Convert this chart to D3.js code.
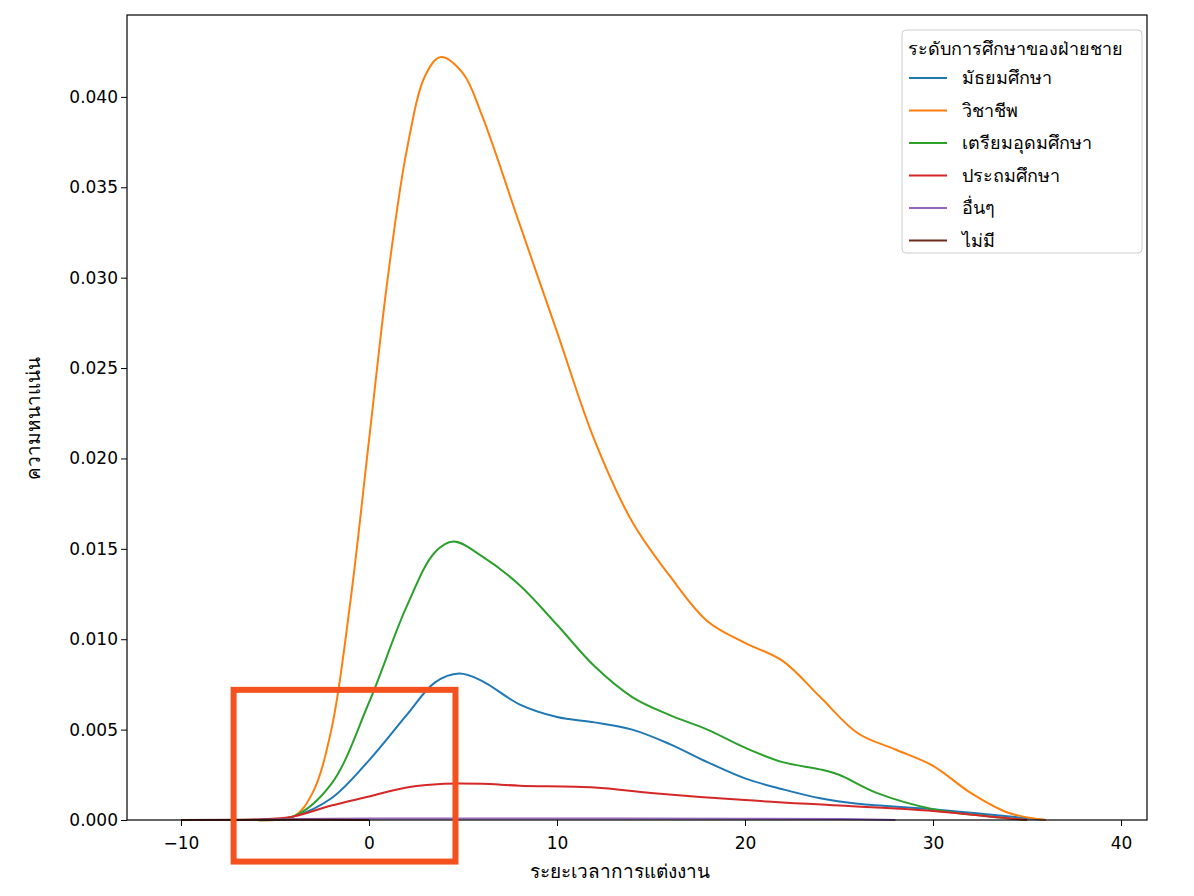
<!DOCTYPE html><html><head><meta charset="utf-8"><script src="https://cdn.jsdelivr.net/npm/d3@7"></script>
<style>body{margin:0;background:#fff}text{font-family:"DejaVu Sans","Noto Sans",sans-serif}</style></head><body><svg id="c" width="1194" height="896"></svg>
<script>
const seriesNames=["มัธยมศึกษา","วิชาชีพ","เตรียมอุดมศึกษา","ประถมศึกษา","อื่นๆ","ไม่มี"];
const colors=["#1f77b4","#ff7f0e","#2ca02c","#d62728","#9467bd","#6b2a1c"];
const blue=[[-6,0],[-4,0.0002],[-2,0.0012],[0,0.0033],[2,0.0058],[3.5,0.0076],[4.8,0.0081],[6,0.0077],[8,0.0064],[10,0.0057],[12,0.0054],[14,0.005],[16,0.0042],[18,0.0032],[20,0.0023],[22,0.0017],[24,0.0012],[26,0.0009],[30,0.0006],[33,0.0003],[36,0]];
const orange=[[-6,0],[-4,0.0002],[-3,0.0015],[-2,0.005],[-1,0.012],[0,0.021],[1,0.03],[2,0.037],[3,0.0412],[3.8,0.0422],[5,0.0413],[6,0.039],[8,0.033],[10,0.027],[12,0.021],[14,0.0165],[16,0.0135],[18,0.011],[20,0.0098],[22,0.0088],[24,0.0068],[26,0.0048],[28,0.0039],[30,0.003],[32,0.0015],[34,0.0004],[36,0]];
const green=[[-6,0],[-4,0.0002],[-2,0.002],[0,0.0065],[2,0.0118],[3.5,0.0148],[4.5,0.0154],[6,0.0146],[8,0.013],[10,0.0108],[12,0.0085],[14,0.0068],[16,0.0058],[18,0.005],[20,0.004],[22,0.0032],[24,0.0028],[25,0.0025],[27,0.0015],[30,0.0006],[33,0.0002],[35,0]];
const red=[[-9,0],[-6,0.00003],[-4,0.0002],[-2,0.0008],[0,0.0013],[2,0.0018],[4,0.002],[6,0.002],[8,0.0019],[12,0.0018],[15,0.0015],[20,0.0011],[25,0.0008],[30,0.0005],[33,0.0002],[35,0]];
const purple=[[-6,0],[-4,0.00005],[0,0.00008],[10,0.00008],[20,0.00007],[25,0.00005],[28,0]];
const brown=[[-10,0],[-5,0.00001],[0,0]];
const allSeries=[blue,orange,green,red,purple,brown];
const xTicks=[-10,0,10,20,30,40];
const yTicks=[0,0.005,0.01,0.015,0.02,0.025,0.03,0.035,0.04];
const box={x0:-7.2,x1:4.6,y0:-0.0023,y1:0.0072};

const svg=d3.select("#c");
const L=127,R=1147,T=15,B=820;
const x=d3.scaleLinear().domain([-12.87,41.38]).range([L,R]);
const y=d3.scaleLinear().domain([0,0.04453]).range([B,T]);
const line=d3.line().x(d=>x(d[0])).y(d=>Math.min(y(d[1]),B)).curve(d3.curveCatmullRom.alpha(0.5));
allSeries.forEach((s,i)=>svg.append("path").attr("d",line(s)).attr("fill","none").attr("stroke",colors[i]).attr("stroke-width",2));
svg.append("rect").attr("x",L).attr("y",T).attr("width",R-L).attr("height",B-T).attr("fill","none").attr("stroke","#000").attr("stroke-width",1.2);
const xa=svg.append("g").attr("transform",`translate(0,${B})`).call(d3.axisBottom(x).tickValues(xTicks).tickFormat(d=>d<0?"−"+(-d):d).tickSizeOuter(0).tickSize(6));
const ya=svg.append("g").attr("transform",`translate(${L},0)`).call(d3.axisLeft(y).tickValues(yTicks).tickFormat(d3.format(".3f")).tickSizeOuter(0).tickSize(6));
[xa,ya].forEach(a=>{a.select(".domain").remove();a.selectAll("text").attr("font-size",17).attr("fill","#000");a.selectAll("line").attr("stroke","#000");});
xa.selectAll("text").attr("dy","1.15em");
svg.append("text").attr("x",(L+R)/2-17).attr("y",878).attr("text-anchor","middle").attr("font-size",19).text("ระยะเวลาการแต่งงาน");
svg.append("text").attr("transform","translate(40,418) rotate(-90)").attr("text-anchor","middle").attr("font-size",19).text("ความหนาแน่น");
const lg=svg.append("g").attr("transform","translate(902,30)");
lg.append("rect").attr("width",240).attr("height",223).attr("rx",4).attr("fill","#fff").attr("stroke","#ccc");
lg.append("text").attr("x",6).attr("y",25).attr("font-size",18).text("ระดับการศึกษาของฝ่ายชาย");
seriesNames.forEach((n,i)=>{const yy=48+i*32.5;
lg.append("line").attr("x1",7).attr("x2",45).attr("y1",yy).attr("y2",yy).attr("stroke",colors[i]).attr("stroke-width",2);
lg.append("text").attr("x",60).attr("y",yy+6).attr("font-size",18).text(n);});
svg.append("rect").attr("x",x(box.x0)).attr("y",y(box.y1)).attr("width",x(box.x1)-x(box.x0)).attr("height",y(box.y0)-y(box.y1)).attr("fill","none").attr("stroke","#f4511e").attr("stroke-width",6);
</script></body></html>
